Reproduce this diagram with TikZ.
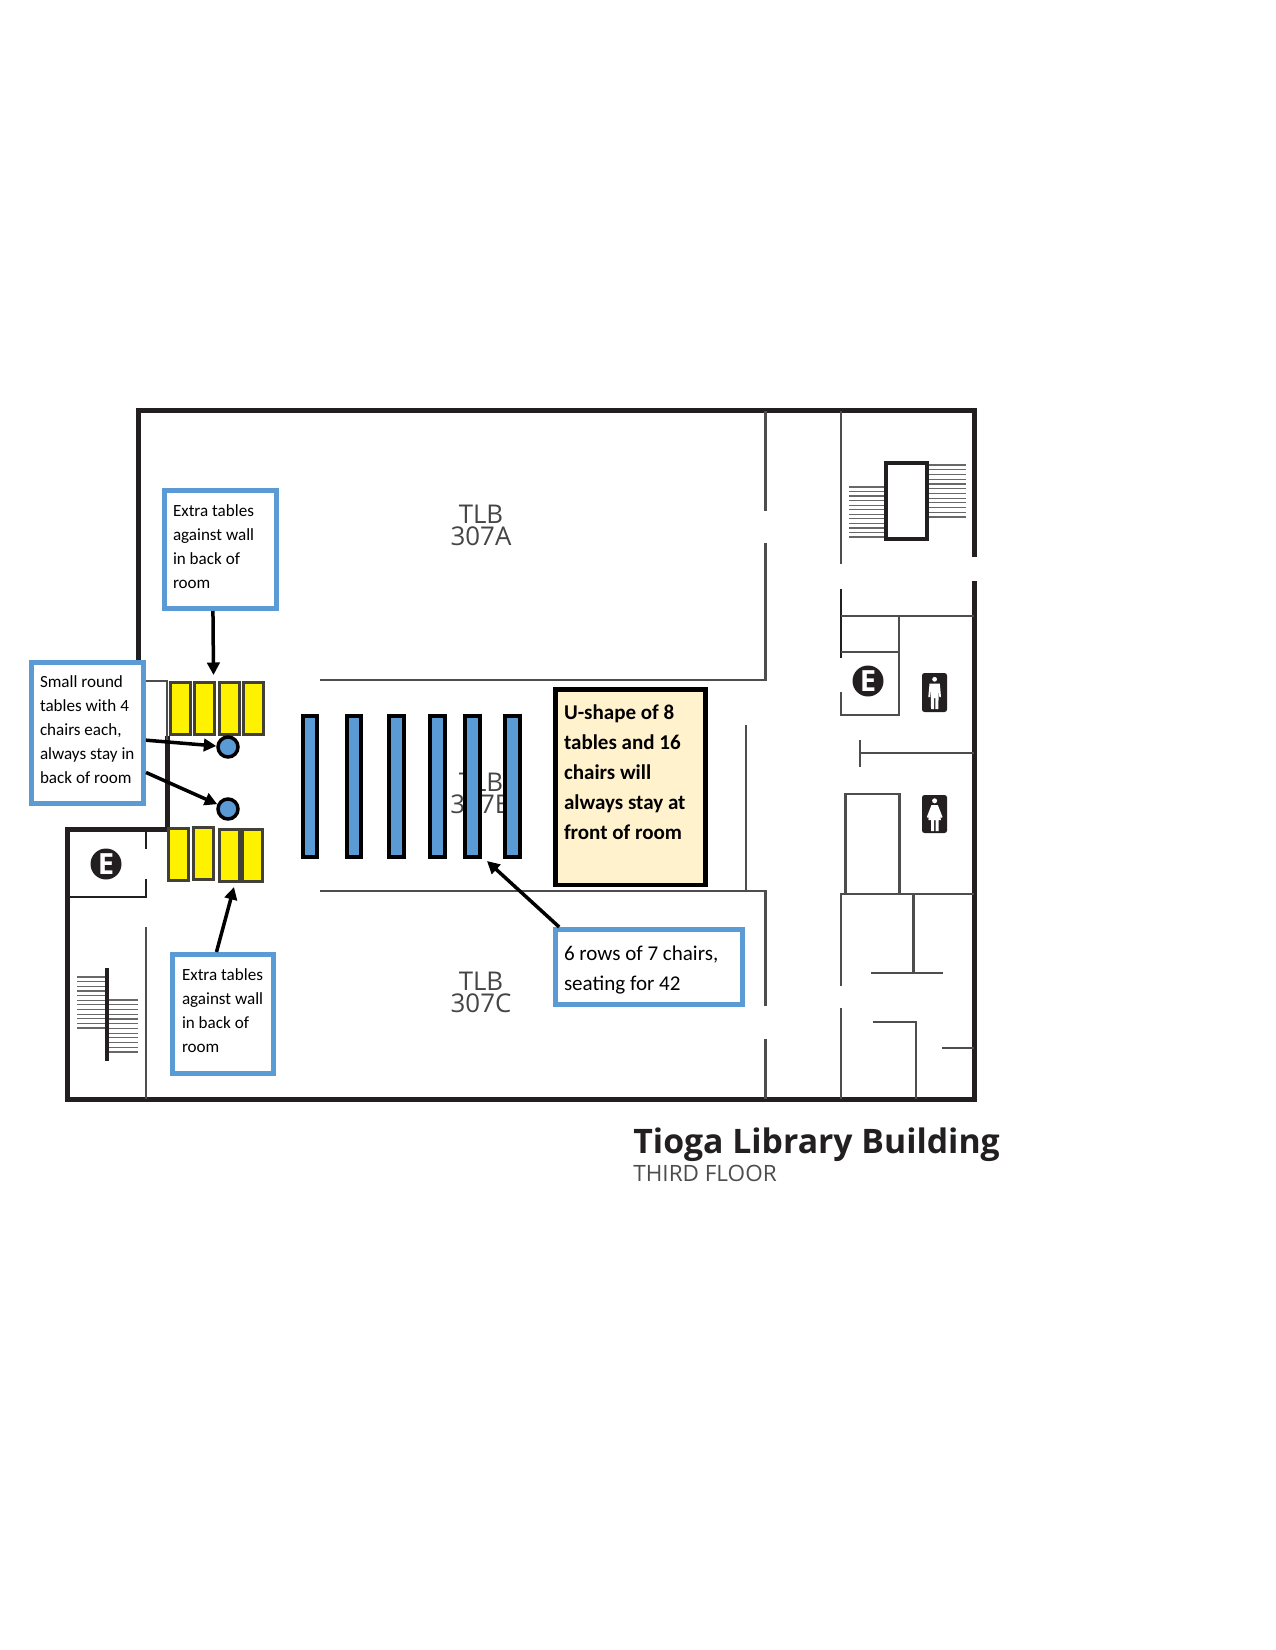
\documentclass[tikz,border=0pt]{standalone}
\usepackage{fontspec}
\usepackage{tikz}
\usetikzlibrary{arrows.meta}
\setmainfont{Open Sans}
\newfontfamily\boxfont{Carlito}
\definecolor{wallblack}{HTML}{231F20}
\definecolor{wallgray}{HTML}{4D4D4D}
\definecolor{tableblue}{HTML}{5B9BD5}
\definecolor{notecream}{HTML}{FFF2CC}
\def\pxu{0.48pt}
\newcommand{\liftnote}{\rule[-2.9pt]{0pt}{1pt}}
\tikzset{
	wall/.style={draw=wallblack, line width=5*\pxu},
	thinwall/.style={draw=wallgray, line width=2.2*\pxu},
	midwall/.style={draw=wallblack, line width=2.6*\pxu},
	tread/.style={draw=wallgray!85, line width=1.2*\pxu},
	roomlabel/.style={text=wallgray!90!black, font=\fontsize{12.4}{10.6}\selectfont, align=center, inner sep=0pt},
	exitsign/.style={circle, fill=wallblack, minimum size=31*\pxu, inner sep=0pt, text=white, font=\fontsize{14}{14}\selectfont\bfseries},
	longtable/.style={draw=black, fill=tableblue, line width=4*\pxu, minimum width=14.5*\pxu, minimum height=141*\pxu, inner sep=0pt},
	sidetable/.style={draw=black!85!yellow, fill=yellow, line width=3*\pxu, minimum width=20*\pxu, minimum height=52*\pxu, inner sep=0pt},
	roundtable/.style={circle, draw=black, fill=tableblue, line width=3.5*\pxu, minimum size=20*\pxu, inner sep=0pt},
	smallnote/.style={draw=tableblue, fill=white, line width=5*\pxu, inner xsep=8.5*\pxu, inner ysep=0pt, align=flush left, font=\boxfont\fontsize{8.2}{11.5}\selectfont},
	bignote/.style={smallnote, font=\boxfont\fontsize{10.1}{14.4}\selectfont},
	pointer/.style={-{Triangle[length=6pt,width=6pt]}, line width=3.5*\pxu, draw=black},
}
\begin{document}
\begin{tikzpicture}[x=\pxu, y=-\pxu]
	\useasboundingbox (0,0) rectangle (1275,1650);
	% Outer walls:
	\draw[wall] (138,662) -- (138,411) -- (974,411) -- (974,557);
	\draw[wall] (974,581) -- (974,1099) -- (67,1099) -- (67,829) -- (167,829) -- (167,736);
	% Inner walls:
	\draw[thinwall] (144,681) -- (167,681) -- (167,740);
	\draw[thinwall] (320,680) -- (765.5,680) -- (765.5,543);
	\draw[thinwall] (765.5,411) -- (765.5,511);
	\draw[thinwall] (841,411) -- (841,564);
	\draw[midwall] (841,589) -- (841,658);
	\draw[thinwall] (841,616) -- (974,616);
	\draw[thinwall] (841,652) -- (899,652);
	\draw[thinwall] (899,616) -- (899,715) -- (841,715) -- (841,692);
	\draw[thinwall] (860,753) -- (974,753);
	\draw[thinwall] (860,740) -- (860,767);
	\draw[thinwall] (746,725) -- (746,891);
	\draw[thinwall] (320,891) -- (765.5,891) -- (765.5,1006);
	\draw[thinwall] (765.5,1039) -- (765.5,1099);
	\draw[thinwall] (845.5,894) -- (845.5,794) -- (899.5,794) -- (899.5,894);
	\draw[thinwall] (841,986) -- (841,894) -- (974,894);
	\draw[thinwall] (841,1008) -- (841,1099);
	\draw[thinwall] (913.5,894) -- (913.5,973);
	\draw[thinwall] (871,973) -- (943,973);
	\draw[thinwall] (873,1022) -- (916,1022) -- (916,1099);
	\draw[thinwall] (942,1048) -- (974,1048);
	\draw[midwall] (146,832) -- (146,849);
	\draw[midwall] (67,897) -- (146,897) -- (146,879);
	\draw[thinwall] (146,927) -- (146,1099);
	% Stairs:
	\draw[tread] (849,487) -- (886,487) (849,491.5) -- (886,491.5) (849,496) -- (886,496) (849,500.6) -- (886,500.6)
		(849,505.2) -- (886,505.2) (849,509.7) -- (886,509.7) (849,514.3) -- (886,514.3) (849,518.8) -- (886,518.8)
		(849,523.4) -- (886,523.4) (849,527.9) -- (886,527.9) (849,532.5) -- (886,532.5) (849,537) -- (886,537);
	\draw[tread] (927,465) -- (966,465) (927,469.7) -- (966,469.7) (927,474.5) -- (966,474.5) (927,479.2) -- (966,479.2)
		(927,483.9) -- (966,483.9) (927,488.6) -- (966,488.6) (927,493.4) -- (966,493.4) (927,498.1) -- (966,498.1)
		(927,502.8) -- (966,502.8) (927,507.5) -- (966,507.5) (927,512.3) -- (966,512.3) (927,517) -- (966,517);
	\draw[midwall, line width=3.3*\pxu, fill=white] (886,463) rectangle (927,539);
	\draw[tread] (77,977) -- (107,977) (77,981.6) -- (107,981.6) (77,986.3) -- (107,986.3) (77,990.9) -- (107,990.9)
		(77,995.5) -- (107,995.5) (77,1000.2) -- (107,1000.2) (77,1004.8) -- (107,1004.8) (77,1009.5) -- (107,1009.5)
		(77,1014.1) -- (107,1014.1) (77,1018.7) -- (107,1018.7) (77,1023.4) -- (107,1023.4) (77,1028) -- (107,1028);
	\draw[tread] (107,1000) -- (138,1000) (107,1004.7) -- (138,1004.7) (107,1009.5) -- (138,1009.5) (107,1014.2) -- (138,1014.2)
		(107,1018.9) -- (138,1018.9) (107,1023.6) -- (138,1023.6) (107,1028.4) -- (138,1028.4) (107,1033.1) -- (138,1033.1)
		(107,1037.8) -- (138,1037.8) (107,1042.5) -- (138,1042.5) (107,1047.3) -- (138,1047.3) (107,1052) -- (138,1052);
	\draw[midwall, line width=3.5*\pxu] (107,968) -- (107,1061);
	% Exit signs and restrooms:
	\node[exitsign] (ExitLeft) at (106,864) {E};
	\node[exitsign] (ExitRight) at (868,681) {E};
	\fill[wallblack, rounded corners=1.2pt] (922,673) rectangle (947,712);
	\fill[white] (934.6,679.3) circle[radius=2.4];
	\fill[white] (929.5,683.5) -- (939.8,683.5) -- (941,697) -- (939.3,697) -- (938.6,688.5) -- (938.4,709) -- (935.3,709)
		-- (935.3,698) -- (934,698) -- (934,709) -- (931,709) -- (930.8,688.5) -- (930,697) -- (928.3,697) -- cycle;
	\fill[wallblack, rounded corners=1.2pt] (922,795) rectangle (947,833);
	\fill[white] (934.6,800.8) circle[radius=2.5];
	\fill[white] (931.5,805) -- (937.8,805) -- (942.5,817) -- (941,818) -- (938.8,811) -- (941,820) -- (938.5,820) -- (938.5,831)
		-- (935.5,831) -- (935.5,820) -- (934,820) -- (934,831) -- (931,831) -- (931,820) -- (928.3,820) -- (930.5,811) -- (928.3,818) -- (926.8,817) -- cycle;
	% Room labels:
	\node[roomlabel] (RoomA) at (481,525) {TLB\\307A};
	\node[roomlabel] (RoomB) at (481,793.5) {TLB\\307B};
	\node[roomlabel] (RoomC) at (481,992) {TLB\\307C};
	\node[anchor=base west, inner sep=0pt, text=wallblack, font=\fontsize{16.2}{18}\selectfont\bfseries] (Title) at (633,1153.5) {Tioga Library Building};
	\node[anchor=base west, inner sep=0pt, text=wallgray, font=\fontsize{10.8}{12}\selectfont] (Subtitle) at (633,1181.5) {THIRD FLOOR};
	% Tables:
	\node[longtable] (Row1) at (310,786.5) {};
	\node[longtable] (Row2) at (354,786.5) {};
	\node[longtable] (Row3) at (396.5,786.5) {};
	\node[longtable] (Row4) at (437.5,786.5) {};
	\node[longtable] (Row5) at (472.5,786.5) {};
	\node[longtable] (Row6) at (512.5,786.5) {};
	\node[sidetable] (Top1) at (180,708.5) {};
	\node[sidetable] (Top2) at (204,708.5) {};
	\node[sidetable] (Top3) at (229.5,708.5) {};
	\node[sidetable] (Top4) at (253.5,708.5) {};
	\node[sidetable] (Low1) at (178.5,854.5) {};
	\node[sidetable] (Low2) at (203.5,853.5) {};
	\node[sidetable] (Low3) at (229,855) {};
	\node[sidetable] (Low4) at (252,855) {};
	\node[roundtable] (RoundA) at (228,747) {};
	\node[roundtable] (RoundB) at (228,809) {};
	% Notes:
	\node[smallnote, text width=95*\pxu, minimum height=118*\pxu] (NoteTop) at (220.5,549.5) {Extra tables\\against wall\\in back of\\room\liftnote};
	\node[smallnote, inner xsep=8.5*\pxu, text width=95*\pxu, minimum height=141*\pxu] (NoteRound) at (87.5,733) {Small round\\tables with 4\\chairs each,\\always stay in\\back of room\liftnote};
	\node[smallnote, inner xsep=9.5*\pxu, text width=82*\pxu, minimum height=119*\pxu] (NoteLow) at (223,1014) {Extra tables\\against wall\\in back of\\room\liftnote};
	\node[bignote, text width=170*\pxu, minimum height=75*\pxu] (NoteRows) at (649,967) {\rule{0pt}{10pt}6 rows of 7 chairs,\\seating for 42};
	\node[bignote, draw=black, fill=notecream, line width=4.5*\pxu, text width=133*\pxu, minimum height=195.5*\pxu, font=\boxfont\bfseries\fontsize{10.1}{14.4}\selectfont] (NoteFront) at (630.5,787) {U-shape of 8\\tables and 16\\chairs will\\always stay at\\front of room\\\mbox{}};
	% Arrows:
	\coordinate (TipTop) at (213.5,675);
	\coordinate (TipLow) at (234,887);
	\coordinate (TipRows) at (487,861);
	\draw[pointer] (NoteTop.-97) -- (TipTop);
	\draw[pointer] (NoteRound.-7) -- (RoundA);
	\draw[pointer] (NoteRound.-34) -- (RoundB);
	\draw[pointer] (NoteLow.96) -- (TipLow);
	\draw[pointer] (NoteRows.156) -- (TipRows);
\end{tikzpicture}
\end{document}
